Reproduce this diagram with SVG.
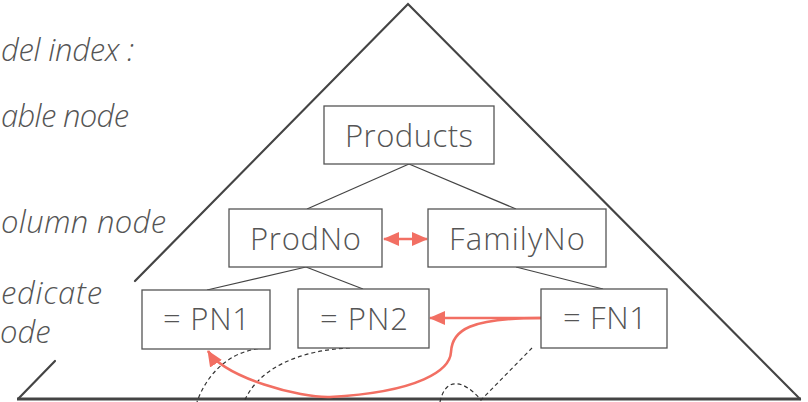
<svg xmlns="http://www.w3.org/2000/svg" width="808" height="402" viewBox="0 0 808 402">
<style>
.tri{stroke:#444;stroke-width:2.2;fill:none;stroke-linecap:round}
.box{fill:#fff;stroke:#555;stroke-width:1.3}
.lbl{font-family:"Open Sans","Lato","Liberation Sans",sans-serif;font-weight:300;font-size:31px;fill:#555;text-anchor:middle}
.side{font-family:"Open Sans","Lato","Liberation Sans",sans-serif;font-weight:300;font-style:italic;font-size:31px;fill:#555}
.edge{stroke:#444;stroke-width:1.2;fill:none}
.dash{stroke:#333;stroke-width:1.2;fill:none;stroke-dasharray:4 3}
.red{stroke:#F26F63;stroke-width:2.6;fill:none}
</style>
<defs>
<marker id="ah" markerUnits="userSpaceOnUse" markerWidth="16" markerHeight="14" refX="15" refY="7" orient="auto-start-reverse">
<path d="M0,0 L16,7 L0,14 z" fill="#F26F63"/>
</marker>
</defs>
<g id="frame">
<path class="tri" d="M135,281 L408,4 L800,399"/>
<path class="tri" d="M55,361 L18,399"/>
<line x1="17" y1="399" x2="801" y2="399" stroke="#444" stroke-width="3"/>
</g>
<g id="legend">
<text class="side" x="1" y="61" textLength="133" lengthAdjust="spacing">del index :</text>
<text class="side" x="1" y="127" textLength="128" lengthAdjust="spacing">able node</text>
<text class="side" x="1" y="233" textLength="165" lengthAdjust="spacing">olumn node</text>
<text class="side" x="1" y="304" textLength="101" lengthAdjust="spacing">edicate</text>
<text class="side" x="0" y="343">ode</text>
</g>
<g id="connectors">
<line class="edge" x1="409" y1="164" x2="307" y2="209"/>
<line class="edge" x1="409" y1="164" x2="516" y2="209"/>
<line class="edge" x1="306" y1="267" x2="207" y2="290"/>
<line class="edge" x1="306" y1="267" x2="363" y2="289"/>
<line class="edge" x1="516" y1="267" x2="603" y2="289"/>
<path class="dash" d="M265,348 C228,350 206,376 197,402"/>
<path class="dash" d="M350,348 C300,350 258,368 244,402"/>
<path class="dash" d="M440,402 C445,378 462,378 481,400 L532,348"/>
<line class="red" x1="384" y1="239" x2="427" y2="239" marker-start="url(#ah)" marker-end="url(#ah)"/>
<line class="red" x1="541" y1="318" x2="430" y2="318" marker-end="url(#ah)"/>
<path class="red" d="M541,318 C470,318 452,330 451,352 C450,370 420,392 330,397 C300,398 225,378 208,351" marker-end="url(#ah)"/>
</g>
<g id="products"><rect class="box" x="324" y="106" width="170" height="58"/><text class="lbl" x="409" y="147" textLength="128" lengthAdjust="spacing">Products</text></g>
<g id="prodno"><rect class="box" x="229" y="209" width="153" height="58"/><text class="lbl" x="305.5" y="250" textLength="111" lengthAdjust="spacing">ProdNo</text></g>
<g id="familyno"><rect class="box" x="428" y="209" width="178" height="58"/><text class="lbl" x="517" y="250" textLength="136" lengthAdjust="spacing">FamilyNo</text></g>
<g id="pn1"><rect class="box" x="142" y="290" width="128" height="59"/><text class="lbl" x="206.5" y="330" textLength="87" lengthAdjust="spacing">= PN1</text></g>
<g id="pn2"><rect class="box" x="298" y="289" width="131" height="59"/><text class="lbl" x="364" y="330" textLength="88" lengthAdjust="spacing">= PN2</text></g>
<g id="fn1"><rect class="box" x="541" y="289" width="126" height="59"/><text class="lbl" x="605" y="329" textLength="84" lengthAdjust="spacing">= FN1</text></g>
</svg>
